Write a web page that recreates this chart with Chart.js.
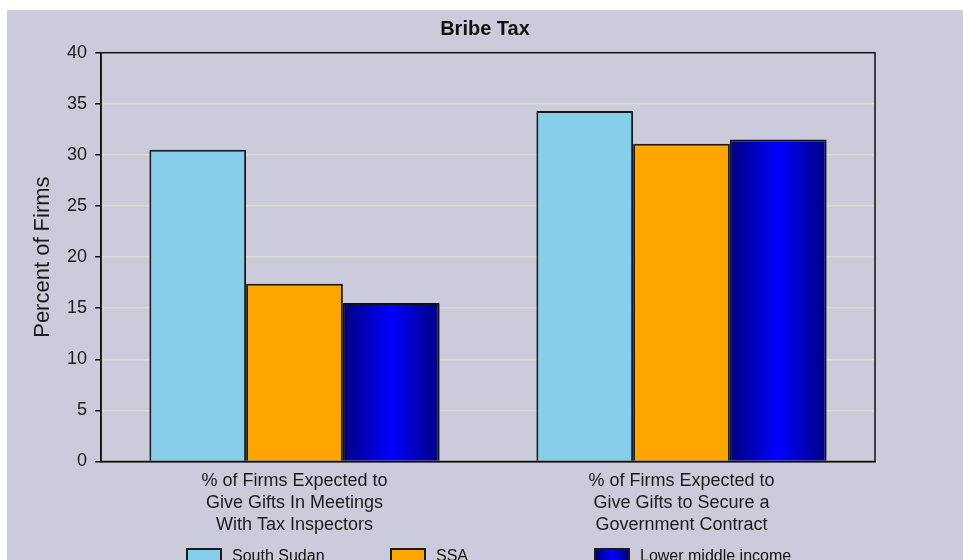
<!DOCTYPE html>
<html>
<head>
<meta charset="utf-8">
<script src="https://cdn.jsdelivr.net/npm/chart.js@4.4.1/dist/chart.umd.min.js"></script>
<style>
  html, body { margin: 0; padding: 0; background: #ffffff; width: 963px; height: 560px; overflow: hidden; }
  #wrap { position: absolute; left: 7px; top: 10px; width: 956px; height: 550px; background: #CBCBDC; overflow: hidden; }
  canvas { position: absolute; left: 0; top: 0; }
  .lg { position: absolute; top: 538px; height: 20px; font-family: "Liberation Sans", Arial, sans-serif; font-size: 16px; color: #111; white-space: nowrap; }
  .lg .box { position: absolute; left: 0; top: 0; width: 32px; height: 10px; border: 2px solid #1a1a1a; }
  .lg .txt { position: absolute; left: 46px; top: 0; line-height: 16px; }
</style>
</head>
<body>
<div id="wrap">
  <canvas id="c" width="956" height="550"></canvas>
  <div id="legend"></div>
</div>
<script>
const chartTitle = "Bribe Tax";
const yAxisTitle = "Percent of Firms";
const categories = [
  ["% of Firms Expected to", "Give Gifts In Meetings", "With Tax Inspectors"],
  ["% of Firms Expected to", "Give Gifts to Secure a", "Government Contract"]
];
const seriesNames = ["South Sudan", "SSA", "Lower middle income"];
const southSudan = [30.5, 34.3];
const ssa = [17.4, 31.1];
const lowerMiddleIncome = [15.5, 31.5];
const yTicks = [0, 5, 10, 15, 20, 25, 30, 35, 40];

const CAT_PCT = 0.75;
const NSERIES = 3;

function lmiGradient(ctx) {
  const chart = ctx.chart;
  const xs = chart.scales && chart.scales.x;
  if (!xs || ctx.type !== 'data' || !chart.chartArea) return '#0000CC';
  const center = xs.getPixelForValue(ctx.dataIndex);
  const catW = xs.width / categories.length;
  const barW = catW * CAT_PCT / NSERIES;
  const x0 = center + barW / 2;
  const x1 = center + barW * 1.5;
  const g = chart.ctx.createLinearGradient(x0, 0, x1, 0);
  g.addColorStop(0, '#000080');
  g.addColorStop(0.5, '#0000FF');
  g.addColorStop(1, '#000080');
  return g;
}

const frame = {
  id: 'frame',
  afterDatasetsDraw(chart) {
    const {ctx, chartArea: a} = chart;
    ctx.save();
    ctx.strokeStyle = '#111';
    ctx.lineWidth = 1.5;
    ctx.strokeRect(a.left, a.top, a.right - a.left, a.bottom - a.top);
    ctx.restore();
  }
};

const FONT = "'Liberation Sans', Arial, sans-serif";

const chart = new Chart(document.getElementById('c'), {
  type: 'bar',
  data: {
    labels: categories,
    datasets: [
      { label: seriesNames[0], data: southSudan, backgroundColor: '#87CEEB', borderColor: '#1a1a1a', borderWidth: 2 },
      { label: seriesNames[1], data: ssa, backgroundColor: '#FFA500', borderColor: '#1a1a1a', borderWidth: 2 },
      { label: seriesNames[2], data: lowerMiddleIncome, backgroundColor: lmiGradient, borderColor: '#111', borderWidth: 2 }
    ]
  },
  options: {
    responsive: false,
    animation: false,
    layout: { padding: { left: 0, right: 0, top: 0, bottom: 0 } },
    datasets: { bar: { categoryPercentage: CAT_PCT, barPercentage: 1.0 } },
    plugins: {
      legend: { display: false },
      tooltip: { enabled: false },
      title: {
        display: true,
        text: chartTitle,
        color: '#111',
        font: { family: FONT, size: 20, weight: 'bold' },
        padding: { top: 7, bottom: 11.7 }
      }
    },
    scales: {
      x: {
        afterFit: s => { s.height = 98.5; },
        grid: { display: false, drawTicks: false },
        border: { display: true, color: '#111', width: 1.5 },
        ticks: { color: '#1a1a1a', font: { family: FONT, size: 18, lineHeight: 1.22 }, padding: 9, maxRotation: 0, autoSkip: false }
      },
      y: {
        min: 0, max: 40,
        afterFit: s => { s.width = 94; },
        afterBuildTicks: s => { s.ticks = yTicks.map(v => ({ value: v })); },
        grid: {
          color: c => (c.tick && (c.tick.value === 0 || c.tick.value === 40)) ? 'rgba(0,0,0,0)' : '#DDDBD2',
          lineWidth: 1.5,
          tickColor: '#111',
          tickLength: 6,
          drawTicks: true
        },
        border: { display: true, color: '#111', width: 1.5 },
        ticks: { color: '#1a1a1a', font: { family: FONT, size: 18 }, padding: 8, stepSize: 5 },
        title: {
          display: true,
          text: yAxisTitle,
          color: '#1a1a1a',
          font: { family: FONT, size: 22 },
          padding: { top: 23, bottom: 0 }
        }
      },
      yRightSpace: {
        type: 'linear',
        position: 'right',
        display: true,
        afterFit: s => { s.width = 88; },
        grid: { display: false, drawTicks: false },
        border: { display: false },
        ticks: { display: false }
      }
    }
  },
  plugins: [frame]
});

// HTML legend
const legendEl = document.getElementById('legend');
const legendX = [179, 383, 587];
const legendFill = ['#87CEEB', '#FFA500', 'linear-gradient(to right, #000080, #0000FF 50%, #000080)'];
seriesNames.forEach((name, i) => {
  const d = document.createElement('div');
  d.className = 'lg';
  d.style.left = legendX[i] + 'px';
  const b = document.createElement('div');
  b.className = 'box';
  b.style.background = legendFill[i];
  const t = document.createElement('div');
  t.className = 'txt';
  t.textContent = name;
  d.appendChild(b); d.appendChild(t);
  legendEl.appendChild(d);
});
</script>
</body>
</html>
